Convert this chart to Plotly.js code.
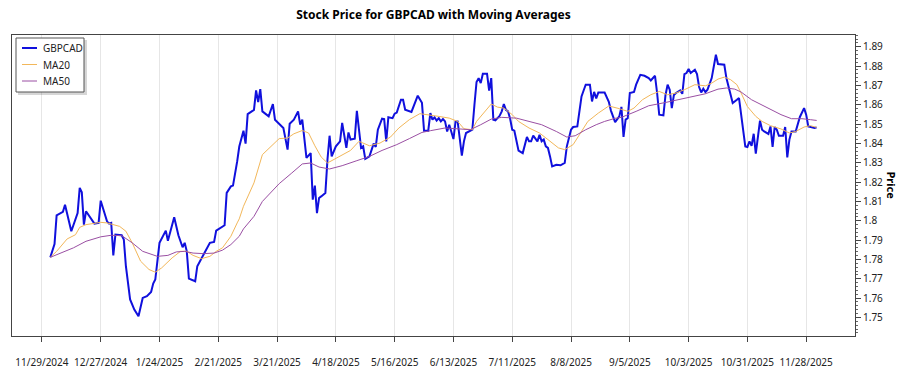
<!DOCTYPE html>
<html>
<head>
<meta charset="utf-8">
<script src="https://cdn.plot.ly/plotly-3.0.1.min.js"></script>
<style>html,body{margin:0;padding:0;background:#fff;}#chart{width:900px;height:375px;}</style>
</head>
<body>
<div id="chart"></div>
<script>
const priceDates = ["2024-12-03","2024-12-04","2024-12-05","2024-12-06","2024-12-09","2024-12-10","2024-12-11","2024-12-13","2024-12-16","2024-12-17","2024-12-18","2024-12-19","2024-12-20","2024-12-23","2024-12-24","2024-12-26","2024-12-27","2024-12-30","2024-12-31","2025-01-01","2025-01-02","2025-01-03","2025-01-06","2025-01-07","2025-01-08","2025-01-10","2025-01-12","2025-01-14","2025-01-16","2025-01-18","2025-01-20","2025-01-21","2025-01-22","2025-01-24","2025-01-27","2025-01-28","2025-01-31","2025-02-02","2025-02-04","2025-02-05","2025-02-06","2025-02-07","2025-02-10","2025-02-11","2025-02-14","2025-02-17","2025-02-19","2025-02-20","2025-02-24","2025-02-25","2025-02-27","2025-02-28","2025-03-02","2025-03-03","2025-03-05","2025-03-06","2025-03-07","2025-03-10","2025-03-11","2025-03-12","2025-03-13","2025-03-14","2025-03-17","2025-03-19","2025-03-20","2025-03-24","2025-03-26","2025-03-27","2025-03-29","2025-03-31","2025-04-01","2025-04-02","2025-04-04","2025-04-06","2025-04-07","2025-04-08","2025-04-09","2025-04-10","2025-04-11","2025-04-13","2025-04-14","2025-04-15","2025-04-16","2025-04-18","2025-04-20","2025-04-21","2025-04-23","2025-04-24","2025-04-25","2025-04-27","2025-04-28","2025-04-30","2025-05-01","2025-05-02","2025-05-04","2025-05-06","2025-05-07","2025-05-08","2025-05-10","2025-05-11","2025-05-12","2025-05-13","2025-05-15","2025-05-16","2025-05-17","2025-05-19","2025-05-20","2025-05-21","2025-05-24","2025-05-27","2025-05-29","2025-05-30","2025-06-01","2025-06-02","2025-06-03","2025-06-04","2025-06-05","2025-06-06","2025-06-07","2025-06-08","2025-06-09","2025-06-10","2025-06-11","2025-06-13","2025-06-14","2025-06-15","2025-06-17","2025-06-18","2025-06-19","2025-06-22","2025-06-23","2025-06-24","2025-06-25","2025-06-26","2025-06-27","2025-06-29","2025-06-30","2025-07-01","2025-07-02","2025-07-03","2025-07-05","2025-07-06","2025-07-07","2025-07-08","2025-07-09","2025-07-10","2025-07-11","2025-07-12","2025-07-14","2025-07-16","2025-07-18","2025-07-19","2025-07-20","2025-07-21","2025-07-23","2025-07-24","2025-07-25","2025-07-26","2025-07-27","2025-07-28","2025-07-29","2025-07-30","2025-08-01","2025-08-03","2025-08-05","2025-08-06","2025-08-08","2025-08-09","2025-08-11","2025-08-12","2025-08-13","2025-08-14","2025-08-15","2025-08-17","2025-08-18","2025-08-19","2025-08-20","2025-08-21","2025-08-24","2025-08-26","2025-08-27","2025-08-29","2025-08-31","2025-09-01","2025-09-02","2025-09-03","2025-09-04","2025-09-05","2025-09-07","2025-09-08","2025-09-10","2025-09-12","2025-09-14","2025-09-15","2025-09-17","2025-09-18","2025-09-19","2025-09-21","2025-09-22","2025-09-23","2025-09-24","2025-09-25","2025-09-26","2025-09-27","2025-09-29","2025-09-30","2025-10-01","2025-10-02","2025-10-03","2025-10-04","2025-10-05","2025-10-06","2025-10-07","2025-10-08","2025-10-09","2025-10-10","2025-10-11","2025-10-12","2025-10-14","2025-10-15","2025-10-16","2025-10-17","2025-10-20","2025-10-21","2025-10-22","2025-10-24","2025-10-26","2025-10-27","2025-10-30","2025-10-31","2025-11-01","2025-11-02","2025-11-03","2025-11-04","2025-11-06","2025-11-07","2025-11-08","2025-11-10","2025-11-11","2025-11-12","2025-11-13","2025-11-14","2025-11-15","2025-11-17","2025-11-18","2025-11-19","2025-11-20","2025-11-21","2025-11-23","2025-11-25","2025-11-27","2025-11-28","2025-11-29","2025-12-01","2025-12-02","2025-12-03"];
const priceValues = [1.7811,1.785,1.788,1.8028,1.8046,1.8083,1.804,1.7946,1.804,1.817,1.8147,1.798,1.8049,1.7997,1.7985,1.7989,1.8104,1.7997,1.7985,1.7989,1.7821,1.7928,1.7925,1.7903,1.7765,1.7593,1.7541,1.7506,1.7601,1.761,1.7632,1.7675,1.7696,1.7886,1.7949,1.7897,1.8018,1.7925,1.7863,1.7886,1.7842,1.7701,1.7687,1.7765,1.7825,1.7886,1.7891,1.7949,1.7977,1.8144,1.8178,1.8182,1.8307,1.8384,1.8466,1.8399,1.8552,1.8574,1.8674,1.8614,1.8681,1.8566,1.854,1.8604,1.8523,1.848,1.8368,1.8502,1.8523,1.8566,1.8497,1.8523,1.8325,1.835,1.8109,1.8182,1.804,1.8118,1.8126,1.8144,1.8316,1.844,1.8333,1.8385,1.8411,1.8506,1.8377,1.8457,1.842,1.8425,1.8569,1.8377,1.8385,1.832,1.8333,1.8399,1.8382,1.8471,1.8528,1.8526,1.8411,1.8536,1.8531,1.8554,1.856,1.8626,1.8626,1.8574,1.8563,1.8647,1.861,1.8466,1.8466,1.8557,1.8523,1.8535,1.8518,1.8531,1.8514,1.8526,1.8514,1.8462,1.8497,1.8423,1.8514,1.8514,1.8337,1.8411,1.8454,1.8471,1.86,1.8718,1.8738,1.8712,1.876,1.876,1.8673,1.8738,1.8523,1.8519,1.8543,1.8566,1.8604,1.8574,1.8566,1.8528,1.8471,1.8466,1.8363,1.835,1.8434,1.8411,1.8411,1.844,1.8411,1.8445,1.8411,1.842,1.8385,1.8377,1.8333,1.8281,1.829,1.8287,1.8299,1.8385,1.8471,1.8485,1.8488,1.856,1.8643,1.8674,1.8704,1.8704,1.8617,1.8667,1.8633,1.8663,1.8663,1.8615,1.857,1.851,1.854,1.8589,1.8434,1.8523,1.8531,1.8661,1.8666,1.8704,1.8755,1.875,1.8738,1.8726,1.875,1.8661,1.8549,1.8545,1.8651,1.8704,1.8678,1.8583,1.8651,1.8661,1.8674,1.8657,1.8759,1.8764,1.8785,1.8764,1.8772,1.8781,1.8759,1.8692,1.8664,1.8683,1.8666,1.8678,1.8738,1.8807,1.8859,1.8811,1.8807,1.8738,1.8695,1.8609,1.8626,1.8635,1.8385,1.8382,1.8411,1.8388,1.845,1.8347,1.8518,1.8471,1.8462,1.8449,1.8488,1.8382,1.8485,1.8471,1.844,1.844,1.8485,1.8328,1.842,1.8462,1.8462,1.8537,1.8583,1.8549,1.8488,1.8483,1.848,1.8483];

const ma20Dates = ["2024-12-03","2024-12-06","2024-12-11","2024-12-15","2024-12-17","2024-12-20","2024-12-27","2024-12-30","2025-01-05","2025-01-08","2025-01-11","2025-01-15","2025-01-19","2025-01-22","2025-01-25","2025-01-30","2025-02-03","2025-02-06","2025-02-09","2025-02-13","2025-02-17","2025-02-20","2025-02-23","2025-02-27","2025-03-02","2025-03-03","2025-03-05","2025-03-10","2025-03-14","2025-03-18","2025-03-22","2025-03-26","2025-03-29","2025-04-02","2025-04-05","2025-04-08","2025-04-11","2025-04-14","2025-04-16","2025-04-20","2025-04-25","2025-04-29","2025-05-04","2025-05-09","2025-05-14","2025-05-18","2025-05-23","2025-05-28","2025-06-01","2025-06-06","2025-06-11","2025-06-15","2025-06-18","2025-06-22","2025-06-24","2025-06-28","2025-07-01","2025-07-04","2025-07-07","2025-07-11","2025-07-14","2025-07-19","2025-07-24","2025-07-28","2025-08-02","2025-08-05","2025-08-09","2025-08-12","2025-08-16","2025-08-21","2025-08-26","2025-08-31","2025-09-04","2025-09-07","2025-09-11","2025-09-15","2025-09-19","2025-09-23","2025-09-27","2025-10-01","2025-10-06","2025-10-11","2025-10-14","2025-10-17","2025-10-20","2025-10-23","2025-10-26","2025-10-28","2025-10-31","2025-11-04","2025-11-07","2025-11-11","2025-11-16","2025-11-20","2025-11-23","2025-11-27","2025-11-30","2025-12-03"];
const ma20Values = [1.7811,1.7842,1.7906,1.7928,1.7966,1.798,1.7992,1.7989,1.7971,1.7946,1.7886,1.7791,1.7748,1.7734,1.7756,1.7808,1.7842,1.7842,1.7821,1.7804,1.7816,1.7842,1.786,1.792,1.7989,1.801,1.8075,1.8196,1.8342,1.8382,1.8425,1.8428,1.845,1.8467,1.8454,1.8388,1.833,1.8299,1.8311,1.8333,1.8364,1.8411,1.8388,1.8402,1.8433,1.848,1.8523,1.8554,1.8549,1.854,1.8531,1.8514,1.8476,1.8471,1.8514,1.8566,1.8604,1.8588,1.8583,1.8549,1.8514,1.848,1.8454,1.842,1.8377,1.8368,1.8394,1.8445,1.8514,1.8557,1.8594,1.858,1.8566,1.8583,1.8626,1.8652,1.8669,1.8652,1.8661,1.8678,1.8704,1.8698,1.8712,1.8733,1.8743,1.873,1.8704,1.8661,1.8591,1.854,1.8514,1.8492,1.8475,1.8454,1.8462,1.8485,1.8492,1.8483];

const ma50Dates = ["2024-12-03","2024-12-08","2024-12-14","2024-12-20","2024-12-27","2025-01-01","2025-01-06","2025-01-11","2025-01-16","2025-01-23","2025-01-28","2025-02-01","2025-02-05","2025-02-09","2025-02-14","2025-02-19","2025-02-23","2025-02-27","2025-03-03","2025-03-05","2025-03-10","2025-03-14","2025-03-22","2025-03-28","2025-04-02","2025-04-06","2025-04-10","2025-04-15","2025-04-21","2025-04-28","2025-05-04","2025-05-10","2025-05-17","2025-05-23","2025-05-29","2025-06-02","2025-06-09","2025-06-16","2025-06-21","2025-06-26","2025-07-01","2025-07-06","2025-07-13","2025-07-19","2025-07-25","2025-08-01","2025-08-06","2025-08-10","2025-08-15","2025-08-20","2025-08-24","2025-08-29","2025-09-01","2025-09-08","2025-09-14","2025-09-22","2025-09-28","2025-10-04","2025-10-11","2025-10-17","2025-10-21","2025-10-25","2025-10-28","2025-11-02","2025-11-07","2025-11-11","2025-11-16","2025-11-21","2025-11-26","2025-11-30","2025-12-03"];
const ma50Values = [1.7811,1.7833,1.786,1.7894,1.7917,1.7925,1.7923,1.7886,1.7842,1.7816,1.7821,1.7839,1.7842,1.7833,1.783,1.7833,1.7848,1.7877,1.792,1.7958,1.8023,1.81,1.8192,1.8247,1.8294,1.8299,1.8278,1.8268,1.8285,1.8311,1.8333,1.8364,1.8394,1.8425,1.8457,1.8466,1.848,1.8475,1.8471,1.8497,1.8526,1.8535,1.8531,1.8514,1.8497,1.8462,1.8433,1.844,1.8471,1.8497,1.8514,1.853,1.8535,1.8566,1.8595,1.8612,1.8626,1.8643,1.8657,1.8681,1.8687,1.8681,1.8666,1.8626,1.8597,1.8574,1.8549,1.8528,1.8528,1.8523,1.8519];

const seriesNames = ["GBPCAD", "MA20", "MA50"];
const seriesColors = ["#1010dd", "#f2b75a", "#9a4fa3"];
const seriesWidths = [2, 1, 1];
const chartTitle = "Stock Price for GBPCAD with Moving Averages";
const yTitle = "Price";

const FONT = "Noto Sans, Open Sans, sans-serif";

const traces = [
  {x: priceDates, y: priceValues, name: seriesNames[0], type: "scatter", mode: "lines",
   line: {color: seriesColors[0], width: seriesWidths[0]}},
  {x: ma20Dates, y: ma20Values, name: seriesNames[1], type: "scatter", mode: "lines",
   line: {color: seriesColors[1], width: seriesWidths[1]}},
  {x: ma50Dates, y: ma50Values, name: seriesNames[2], type: "scatter", mode: "lines",
   line: {color: seriesColors[2], width: seriesWidths[2]}}
];

// Plot area in pixels (used to place the hand-drawn legend box in paper units)
const PL = 12, PR = 855, PT = 35, PB = 336;
const px = x => (x - PL) / (PR - PL);
const py = y => (PB - y) / (PB - PT);

const shapes = [
  {type: "rect", xref: "paper", yref: "paper", layer: "above",
   x0: px(18), x1: px(87), y0: py(95), y1: py(40), fillcolor: "rgba(0,0,0,0.16)", line: {width: 0}},
  {type: "rect", xref: "paper", yref: "paper", layer: "above",
   x0: px(16), x1: px(84), y0: py(92), y1: py(38), fillcolor: "#ffffff", line: {color: "#555", width: 1}}
];
const annotations = [{
  text: "<b>" + yTitle + "</b>", xref: "paper", yref: "paper", x: 1, y: 0.5,
  xshift: 36, textangle: 90, showarrow: false, xanchor: "center", yanchor: "middle",
  font: {family: FONT, size: 11, color: "#000"}
}];
const legendRows = [48, 64.5, 81];
seriesNames.forEach((nm, i) => {
  shapes.push({type: "line", xref: "paper", yref: "paper", layer: "above",
    x0: px(22), x1: px(37), y0: py(legendRows[i]), y1: py(legendRows[i]),
    line: {color: seriesColors[i], width: seriesWidths[i]}});
  annotations.push({text: nm, xref: "paper", yref: "paper", x: px(41), y: py(legendRows[i]),
    xanchor: "left", yanchor: "middle", showarrow: false,
    font: {family: FONT, size: 10, color: "#222"}});
});

const layout = {
  width: 900, height: 375,
  margin: {l: PL, r: 900 - PR, t: PT, b: 375 - PB},
  paper_bgcolor: "#ffffff", plot_bgcolor: "#ffffff",
  font: {family: FONT, size: 10, color: "#222"},
  title: {text: "<b>" + chartTitle + "</b>", x: 0.5, xref: "paper", y: 0.96, yref: "container",
          xanchor: "center", yanchor: "middle", font: {family: FONT, size: 12, color: "#000"}},
  showlegend: false,
  xaxis: {
    type: "date",
    range: ["2024-11-14 18:00", "2025-12-21 06:00"],
    tick0: "2024-11-29", dtick: 28 * 86400000,
    tickformat: "%-m/%-d/%Y",
    showgrid: true, gridcolor: "#e6e6e6", gridwidth: 1,
    showline: true, linecolor: "#444", linewidth: 1, mirror: true,
    ticks: "outside", ticklen: 5, tickcolor: "#444",
    ticklabelstandoff: 12,
    tickfont: {family: FONT, size: 10, color: "#222"},
    zeroline: false
  },
  yaxis: {
    side: "right",
    range: [1.7404, 1.8961],
    tick0: 1.75, dtick: 0.01,
    showgrid: false,
    showline: true, linecolor: "#444", linewidth: 1, mirror: true,
    ticks: "outside", ticklen: 5, tickcolor: "#444",
    minor: {dtick: 0.002, ticks: "outside", ticklen: 2, tickcolor: "#666", showgrid: false},
    tickfont: {family: FONT, size: 10, color: "#222"},
    zeroline: false
  },
  shapes: shapes,
  annotations: annotations
};

Plotly.newPlot("chart", traces, layout, {displayModeBar: false, staticPlot: true});
</script>
</body>
</html>
